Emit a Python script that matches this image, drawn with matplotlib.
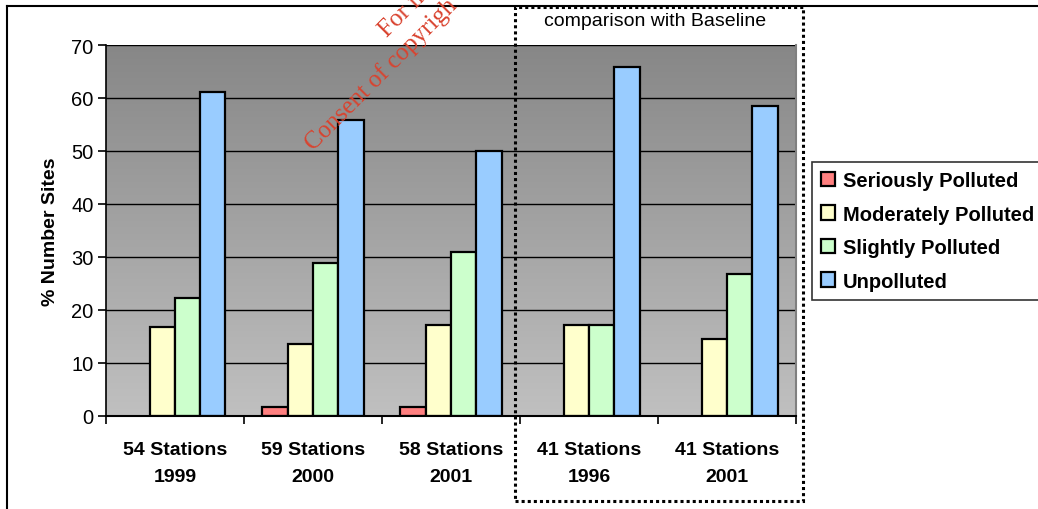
import matplotlib.pyplot as plt
import numpy as np
from matplotlib.colors import LinearSegmentedColormap
from matplotlib.lines import Line2D
from matplotlib.patches import Rectangle

plt.rcParams['font.family'] = ['Liberation Sans', 'DejaVu Sans']

# survey groups and percentage of sites per pollution class
groups = ['54 Stations\n1999', '59 Stations\n2000', '58 Stations\n2001',
          '41 Stations\n1996', '41 Stations\n2001']
classes = ['Seriously Polluted', 'Moderately Polluted', 'Slightly Polluted', 'Unpolluted']
serious = [0.0, 1.7, 1.7, 0.0, 0.0]
moderate = [16.7, 13.6, 17.2, 17.1, 14.6]
slight = [22.2, 28.8, 31.0, 17.1, 26.8]
unpolluted = [61.1, 55.9, 50.0, 65.9, 58.5]
yticks = [0, 10, 20, 30, 40, 50, 60, 70]

colors = ['#ff8080', '#ffffcc', '#ccffcc', '#99ccff']

fig = plt.figure(figsize=(10.38, 5.10), dpi=100)
ax = fig.add_axes([0.1021, 0.1824, 0.6648, 0.7274])

# grey gradient background, dark at the top
grad = np.linspace(0, 1, 256).reshape(-1, 1)
bg = LinearSegmentedColormap.from_list('bg', ['#878787', '#c0c0c0'])
ax.imshow(grad, cmap=bg, aspect='auto', extent=[-0.5, 4.5, 0, 70],
          origin='upper', zorder=0, interpolation='bicubic')

x = np.arange(len(groups))
bw = 0.183
series = [serious, moderate, slight, unpolluted]
for i, (vals, col, lab) in enumerate(zip(series, colors, classes)):
    pos = x + (i - 1.5) * bw
    vals = np.array(vals)
    # empty categories have no bar at all
    mask = vals > 0
    ax.bar(pos[mask], vals[mask], width=bw, color=col, edgecolor='black',
           linewidth=1.6, zorder=3, label=lab)

for yv in yticks[1:]:
    ax.axhline(yv, color='black', linewidth=1.0, zorder=1)

ax.set_xlim(-0.5, 4.5)
ax.set_ylim(0, 70)
ax.set_yticks(yticks)
ax.set_yticklabels([str(v) for v in yticks], fontsize=14.5)
ax.set_xticks(x)
ax.set_xticklabels(groups, fontsize=14, fontweight='bold', linespacing=1.75)
ax.tick_params(axis='x', length=0, pad=18)
ax.set_xticks(np.arange(-0.5, 5.0, 1.0), minor=True)
ax.tick_params(axis='x', which='minor', length=6, width=1.2, direction='out')
ax.tick_params(axis='y', length=6, width=1.2, direction='out', pad=3)
ax.set_ylabel('% Number Sites', fontsize=14, fontweight='bold', labelpad=9)

ax.spines['top'].set_visible(False)
ax.spines['right'].set_color('#808080')
ax.spines['right'].set_linewidth(1.5)
ax.spines['left'].set_linewidth(1.2)
ax.spines['bottom'].set_linewidth(1.5)
ax.spines['bottom'].set_zorder(4)

leg = fig.legend(loc='upper left', bbox_to_anchor=(812 / 1038, 1 - 163 / 510),
                 prop={'weight': 'bold', 'size': 14.5}, frameon=True, fancybox=False,
                 edgecolor='black', handlelength=0.7, handleheight=0.7,
                 handletextpad=0.4, labelspacing=0.72, borderpad=0.45,
                 borderaxespad=0)
leg.get_frame().set_linewidth(1.2)

# outer frame of the figure
fig.add_artist(Line2D([7 / 1038, 1.0], [1 - 7 / 510, 1 - 7 / 510],
                      color='black', linewidth=1.5))
fig.add_artist(Line2D([7 / 1038, 7 / 1038], [0, 1 - 7 / 510],
                      color='black', linewidth=1.5))

# dotted box around the baseline comparison
fig.add_artist(Rectangle((515 / 1038, 8 / 510), (803 - 515) / 1038, (502 - 8) / 510,
                         fill=False, linestyle=(0, (1, 1)), linewidth=2.2,
                         edgecolor='black'))
fig.text(655 / 1038, 1 - 22 / 510, 'comparison with Baseline', fontsize=14,
         ha='center', va='center')

# copyright stamp running off the top of the page
stamp = dict(color='#d9432f', fontsize=18, family=['Liberation Serif', 'DejaVu Serif'],
             rotation=45, rotation_mode='anchor', ha='left', va='baseline')
fig.text(387 / 1038, 1 - 38 / 510, 'For in', **stamp)
fig.text(313 / 1038, 1 - 151 / 510, 'Consent of copyrigh', **stamp)

fig.savefig('out.png', dpi=100)
